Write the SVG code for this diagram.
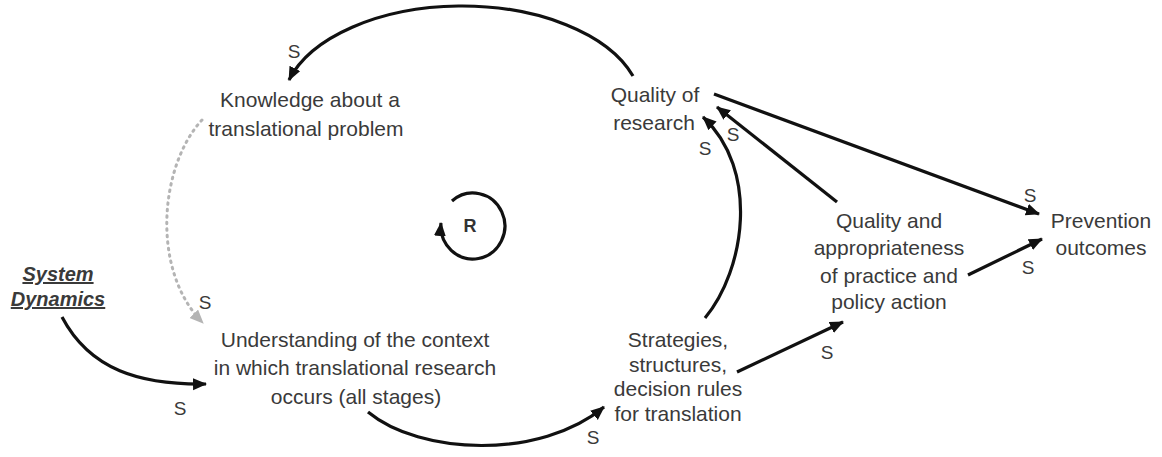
<svg xmlns="http://www.w3.org/2000/svg" width="1162" height="457" viewBox="0 0 1162 457">
  <style>
    .lbl { font-family: "Liberation Sans", Arial, sans-serif; font-size: 21px; fill: #3a3a3a; text-anchor: middle; }
    .s { font-family: "Liberation Sans", Arial, sans-serif; font-size: 19px; fill: #3a3a3a; text-anchor: middle; }
    .sd { font-family: "Liberation Sans", Arial, sans-serif; font-size: 20px; font-weight: bold; font-style: italic; text-decoration: underline; fill: #3a3a3a; text-anchor: middle; }
    .link { fill: none; stroke: #111; stroke-width: 3.2; }
    .dotted { fill: none; stroke: #b4b4b4; stroke-width: 3; stroke-dasharray: 1.5 5; stroke-linecap: round; }
  </style>
  <defs>
    <marker id="head" markerUnits="userSpaceOnUse" markerWidth="16" markerHeight="14" refX="13" refY="6" orient="auto">
      <path d="M0,0 L14,6 L0,12 Z" fill="#111"/>
    </marker>
    <marker id="head-grey" markerUnits="userSpaceOnUse" markerWidth="16" markerHeight="14" refX="13" refY="6" orient="auto">
      <path d="M0,0 L14,6 L0,12 Z" fill="#b4b4b4"/>
    </marker>
  </defs>

  <rect width="1162" height="457" fill="#fff"/>

  <g id="connectors">
    <!-- Quality of research -> Knowledge -->
    <path class="link" d="M633,76 A180,102 0 0 0 289,80" marker-end="url(#head)"/>
    <!-- Knowledge -> Understanding (dotted) -->
    <path class="dotted" d="M202,120 C160,165 150,270 203,323" marker-end="url(#head-grey)"/>
    <!-- System Dynamics -> Understanding -->
    <path class="link" d="M62,317 C90,370 140,385 206,384" marker-end="url(#head)"/>
    <!-- Understanding -> Strategies -->
    <path class="link" d="M368,412 C420,455 540,460 604,407" marker-end="url(#head)"/>
    <!-- Strategies -> Quality of research -->
    <path class="link" d="M705,318 C745,270 760,170 703,117" marker-end="url(#head)"/>
    <!-- Quality and appropriateness -> Quality of research -->
    <path class="link" d="M837,202 L717,107" marker-end="url(#head)"/>
    <!-- Quality of research -> Prevention outcomes -->
    <path class="link" d="M714,94 L1039,214" marker-end="url(#head)"/>
    <!-- Quality and appropriateness -> Prevention outcomes -->
    <path class="link" d="M968,275 L1042,239" marker-end="url(#head)"/>
    <!-- Strategies -> Quality and appropriateness -->
    <path class="link" d="M737,372 L843,322" marker-end="url(#head)"/>

    <!-- polarity labels -->
    <text class="s" x="294" y="58">S</text>
    <text class="s" x="205" y="309">S</text>
    <text class="s" x="180" y="415">S</text>
    <text class="s" x="593" y="444">S</text>
    <text class="s" x="705" y="155">S</text>
    <text class="s" x="733" y="141">S</text>
    <text class="s" x="1030" y="202">S</text>
    <text class="s" x="1028" y="274">S</text>
    <text class="s" x="827" y="359">S</text>
  </g>

  <g id="loop-r">
    <path class="link" d="M452,201 A32,33 0 1 1 441,223" marker-end="url(#head)"/>
    <text x="470" y="232" font-family="Liberation Sans, Arial, sans-serif" font-size="18" font-weight="bold" fill="#333" text-anchor="middle">R</text>
  </g>

  <g id="knowledge">
    <text class="lbl" x="310" y="107">Knowledge about a</text>
    <text class="lbl" x="306" y="136">translational problem</text>
  </g>

  <g id="quality-research">
    <text class="lbl" x="655" y="102">Quality of</text>
    <text class="lbl" x="654" y="130">research</text>
  </g>

  <g id="system-dynamics">
    <text class="sd" x="58" y="281">System</text>
    <text class="sd" x="58" y="306">Dynamics</text>
  </g>

  <g id="understanding">
    <text class="lbl" x="355" y="347">Understanding of the context</text>
    <text class="lbl" x="355" y="375">in which translational research</text>
    <text class="lbl" x="356" y="404">occurs (all stages)</text>
  </g>

  <g id="strategies">
    <text class="lbl" x="678" y="347">Strategies,</text>
    <text class="lbl" x="678" y="372">structures,</text>
    <text class="lbl" x="678" y="396">decision rules</text>
    <text class="lbl" x="678" y="421">for translation</text>
  </g>

  <g id="quality-practice">
    <text class="lbl" x="889" y="228">Quality and</text>
    <text class="lbl" x="889" y="255">appropriateness</text>
    <text class="lbl" x="889" y="283">of practice and</text>
    <text class="lbl" x="889" y="309">policy action</text>
  </g>

  <g id="prevention">
    <text class="lbl" x="1101" y="228">Prevention</text>
    <text class="lbl" x="1101" y="255">outcomes</text>
  </g>
</svg>
